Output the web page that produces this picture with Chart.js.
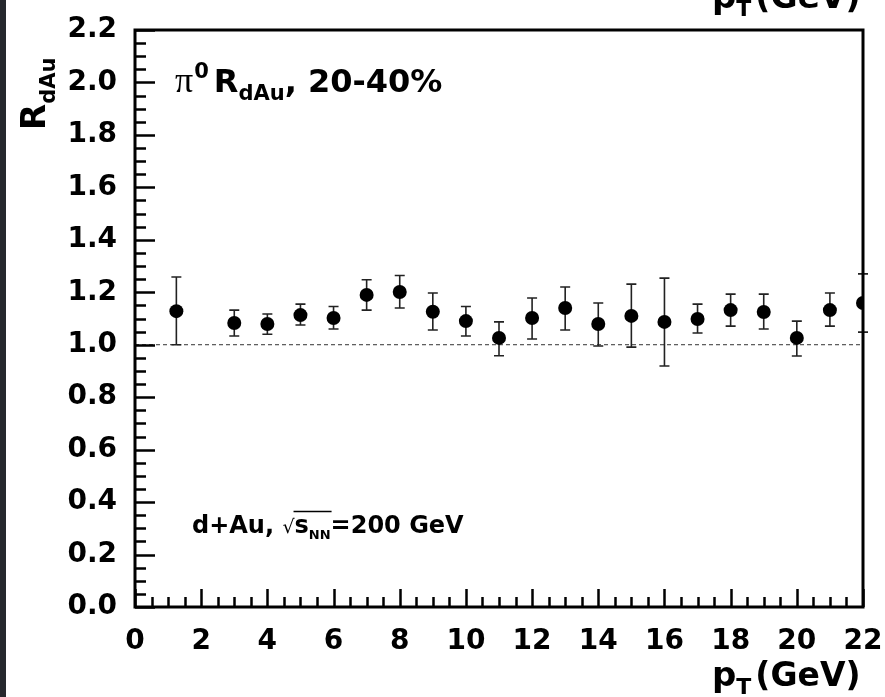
<!DOCTYPE html>
<html>
<head>
<meta charset="utf-8">
<script src="https://cdn.jsdelivr.net/npm/chart.js@4/dist/chart.umd.min.js"></script>
<style>
  html, body { margin: 0; padding: 0; background: #fff; }
  #wrap { width: 885px; height: 697px; }
</style>
</head>
<body>
<div id="wrap"><canvas id="chart" width="885" height="697"></canvas></div>
<script>
// pi0 R_dAu, 20-40% centrality
const ptValues   = [1.25, 3, 4, 5, 6, 7, 8, 9, 10, 11, 12, 13, 14, 15, 16, 17, 18, 19, 20, 21, 22];
const rdauValues = [1.128, 1.083, 1.079, 1.113, 1.102, 1.190, 1.201, 1.126, 1.090, 1.026, 1.102,
                    1.140, 1.079, 1.110, 1.087, 1.098, 1.132, 1.125, 1.026, 1.132, 1.159];
const errHigh    = [1.258, 1.132, 1.117, 1.155, 1.146, 1.248, 1.264, 1.197, 1.146, 1.087, 1.178,
                    1.220, 1.159, 1.231, 1.254, 1.155, 1.193, 1.193, 1.090, 1.197, 1.270];
const errLow     = [1.000, 1.033, 1.040, 1.075, 1.060, 1.132, 1.140, 1.056, 1.033, 0.958, 1.022,
                    1.056, 0.995, 0.991, 0.919, 1.045, 1.071, 1.060, 0.957, 1.071, 1.048];
const xTickValues = [0, 2, 4, 6, 8, 10, 12, 14, 16, 18, 20, 22];
const yTickValues = [0, 0.2, 0.4, 0.6, 0.8, 1.0, 1.2, 1.4, 1.6, 1.8, 2.0, 2.2];

const font = (size, w = 'bold', fam = '"DejaVu Sans"') => `${w} ${size}px ${fam}`;

// draw a sequence of text pieces (for sub/superscripts)
function drawRuns(ctx, x, y, runs) {
    let cx = x;
    const pos = [];
    runs.forEach(r => {
        ctx.font = r.font;
        ctx.fillText(r.t, cx, y + (r.dy || 0));
        const w = ctx.measureText(r.t).width;
        pos.push([cx, cx + w]);
        cx += w + (r.gap || 0);
    });
    return pos;
}

const decor = {
    id: 'decor',
    beforeDraw(chart) {
        const ctx = chart.ctx;
        ctx.save();
        ctx.fillStyle = '#fff';
        ctx.fillRect(0, 0, chart.width, chart.height);
        ctx.fillStyle = '#26282d';
        ctx.fillRect(0, 0, 6, chart.height);
        ctx.restore();
    },
    beforeDatasetsDraw(chart) {
        const { ctx, chartArea: a, scales: { x, y } } = chart;
        ctx.save();
        // reference line at 1
        ctx.strokeStyle = '#333';
        ctx.lineWidth = 1;
        ctx.setLineDash([4, 3]);
        ctx.beginPath();
        ctx.moveTo(a.left, y.getPixelForValue(1));
        ctx.lineTo(a.right, y.getPixelForValue(1));
        ctx.stroke();
        ctx.setLineDash([]);
        // error bars
        ctx.strokeStyle = '#222';
        ctx.lineWidth = 1.6;
        ptValues.forEach((pt, i) => {
            const px = x.getPixelForValue(pt);
            const top = y.getPixelForValue(errHigh[i]);
            const bot = y.getPixelForValue(errLow[i]);
            ctx.beginPath();
            ctx.moveTo(px, top); ctx.lineTo(px, bot);
            ctx.moveTo(px - 5, top); ctx.lineTo(px + 5, top);
            ctx.moveTo(px - 5, bot); ctx.lineTo(px + 5, bot);
            ctx.stroke();
        });
        ctx.restore();
    },
    afterDraw(chart) {
        const { ctx, chartArea: a, scales: { x, y } } = chart;
        ctx.save();
        ctx.strokeStyle = '#000';
        // inward ticks
        ctx.lineWidth = 2.5;
        ctx.beginPath();
        for (let k = 0; k <= 44; k++) {
            const py = Math.round(y.getPixelForValue(k * 0.05)) + 0.5;
            const len = k % 4 === 0 ? 20 : 11;
            ctx.moveTo(a.left, py); ctx.lineTo(a.left + len, py);
        }
        for (let k = 0; k <= 44; k++) {
            const px = Math.round(x.getPixelForValue(k * 0.5)) + 0.5;
            const len = k % 4 === 0 ? 18 : 10;
            ctx.moveTo(px, a.bottom); ctx.lineTo(px, a.bottom - len);
        }
        ctx.stroke();
        // frame
        ctx.lineWidth = 3;
        ctx.strokeRect(a.left, a.top, a.right - a.left, a.bottom - a.top);

        ctx.fillStyle = '#000';
        ctx.textBaseline = 'alphabetic';
        ctx.textAlign = 'left';

        // label: pi0 R_dAu, 20-40%
        drawRuns(ctx, 175, 92, [
            { t: 'π', font: font(36, 'normal', '"Liberation Serif"'), gap: 1 },
            { t: '0', font: font(21), dy: -14, gap: 5 },
            { t: 'R', font: font(32) },
            { t: 'dAu', font: font(21), dy: 8 },
            { t: ', 20-40%', font: font(32) }
        ]);

        // label: d+Au, sqrt(s_NN)=200 GeV
        const p = drawRuns(ctx, 192, 533, [
            { t: 'd+Au, ', font: font(24) },
            { t: '√', font: font(19, 'normal') },
            { t: 's', font: font(24) },
            { t: 'NN', font: font(13), dy: 6 },
            { t: '=200 GeV', font: font(24) }
        ]);
        ctx.lineWidth = 1.5;
        ctx.beginPath();
        ctx.moveTo(p[1][1] - 1, 511.5);
        ctx.lineTo(p[3][1] + 1, 511.5);
        ctx.stroke();

        // x title (bottom) and the cut-off copy at the top
        [686, 8].forEach(by => {
            drawRuns(ctx, 712, by, [
                { t: 'p', font: font(34) },
                { t: 'T', font: font(22), dy: 8, gap: 4 },
                { t: '(GeV)', font: font(33) }
            ]);
        });

        // y title, rotated
        ctx.translate(45, 130);
        ctx.rotate(-Math.PI / 2);
        drawRuns(ctx, 0, 0, [
            { t: 'R', font: font(34) },
            { t: 'dAu', font: font(21), dy: 10 }
        ]);
        ctx.restore();
    }
};

new Chart(document.getElementById('chart'), {
    type: 'scatter',
    data: {
        datasets: [{
            data: ptValues.map((v, i) => ({ x: v, y: rdauValues[i] })),
            pointRadius: 7,
            pointHoverRadius: 7,
            pointBackgroundColor: '#000',
            pointBorderColor: '#000',
            borderWidth: 0,
            clip: 0
        }]
    },
    options: {
        responsive: false,
        devicePixelRatio: 1,
        animation: false,
        events: [],
        layout: { padding: { left: 0, right: 22, top: 30, bottom: 0 } },
        plugins: { legend: { display: false }, tooltip: { enabled: false } },
        scales: {
            x: {
                type: 'linear', min: 0, max: 22,
                afterBuildTicks: s => { s.ticks = xTickValues.map(v => ({ value: v })); },
                afterFit: s => { s.height = 90; s.paddingLeft = 0; s.paddingRight = 0; },
                grid: { display: false, drawTicks: false },
                border: { display: false },
                ticks: {
                    autoSkip: false, maxRotation: 0, padding: 18, color: '#000',
                    font: { family: '"DejaVu Sans"', weight: 'bold', size: 28 }
                }
            },
            y: {
                type: 'linear', min: 0, max: 2.2,
                afterBuildTicks: s => { s.ticks = yTickValues.map(v => ({ value: v })); },
                afterFit: s => { s.width = 135; s.paddingTop = 0; s.paddingBottom = 0; },
                grid: { display: false, drawTicks: false },
                border: { display: false },
                ticks: {
                    autoSkip: false, padding: 18, color: '#000',
                    callback: v => Number(v).toFixed(1),
                    font: { family: '"DejaVu Sans"', weight: 'bold', size: 28 }
                }
            }
        }
    },
    plugins: [decor]
});
</script>
</body>
</html>
